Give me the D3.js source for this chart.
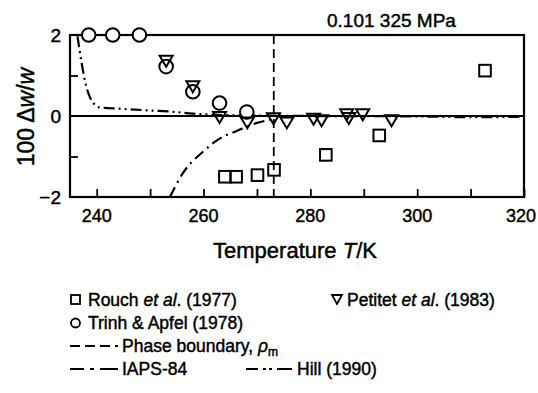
<!DOCTYPE html>
<html><head><meta charset="utf-8">
<script src="https://cdn.jsdelivr.net/npm/d3@7"></script>
<style>body{margin:0;background:#fff}svg{display:block}text{font-family:"Liberation Sans",Arial,sans-serif;fill:#000;stroke:#000;stroke-width:0.45px}</style>
</head><body><svg id="c" width="538" height="393"></svg>
<script>
const xTicks = [240,250,260,270,280,290,300,310,320];
const xTickLabels = [240,260,280,300,320];
const yTickLabels = [2,0,-2];
const yTicks = [-1,1];
const circlesT = [238.5,243,248,253,258,263,268.1];
const circlesV = [2.0,2.0,2.0,1.22,0.6,0.32,0.1];
const trianglesT = [253,258,263,268.2,273.1,275.6,280.6,282.1,286.8,287.2,289.8,295.2];
const trianglesV = [1.35,0.72,-0.04,-0.17,-0.07,-0.17,-0.08,-0.12,0.03,-0.06,0.03,-0.12];
const squaresT = [264,266.1,270.1,273.2,282.9,292.9,312.7];
const squaresV = [-1.5,-1.5,-1.46,-1.33,-0.96,-0.48,1.12];
const hillT = [236.4,237.2,237.8,239.1,240.6,244.4,249.4,253.7,258,265,280,300,310,320];
const hillV = [1.97,1.29,0.87,0.37,0.21,0.18,0.14,0.11,0.06,0.02,0.0,-0.01,-0.03,-0.02];
const iapsT = [253.7,256.2,260,262.5,266.2,270,273];
const iapsV = [-2,-1.4,-0.87,-0.6,-0.37,-0.17,-0.08];
const phaseT = 273.15;

const svg = d3.select("#c");
const L=70,R=524,T=35,B=197;
const x = d3.scaleLinear().domain([235,320]).range([L,R]);
const y = d3.scaleLinear().domain([-2,2]).range([B,T]);

svg.append("g").attr("transform",`translate(0,${B})`)
  .call(d3.axisBottom(x).tickValues(xTicks).tickSizeInner(-8).tickSizeOuter(0).tickFormat(""))
  .call(g=>{g.select(".domain").remove();g.selectAll("line").attr("stroke","#000").attr("stroke-width",1.8);});
svg.append("g").attr("transform",`translate(${L},0)`)
  .call(d3.axisLeft(y).tickValues(yTicks).tickSizeInner(-8).tickSizeOuter(0).tickFormat(""))
  .call(g=>{g.select(".domain").remove();g.selectAll("line").attr("stroke","#000").attr("stroke-width",1.8);});

svg.append("g").selectAll("text").data(xTickLabels).join("text")
  .attr("x",d=>Math.min(x(d),536-15)).attr("y",222).attr("text-anchor","middle").attr("font-size",18).text(d=>d);
svg.append("g").selectAll("text").data(yTickLabels).join("text")
  .attr("x",61).attr("y",d=>y(d)+7).attr("text-anchor","end").attr("font-size",19).text(d=>d<0?"\u2212"+(-d):d);

svg.append("rect").attr("x",L).attr("y",T).attr("width",R-L).attr("height",B-T)
  .attr("fill","none").attr("stroke","#000").attr("stroke-width",2.2);
svg.append("line").attr("x1",L).attr("x2",R).attr("y1",y(0)).attr("y2",y(0)).attr("stroke","#000").attr("stroke-width",2.2);
svg.append("line").attr("x1",x(phaseT)).attr("x2",x(phaseT)).attr("y1",T).attr("y2",B)
  .attr("stroke","#000").attr("stroke-width",1.8).attr("stroke-dasharray","9,5");

const line = d3.line().x(d=>x(d[0])).y(d=>y(d[1])).curve(d3.curveMonotoneX);
svg.append("path").attr("d",line(hillT.map((t,i)=>[t,hillV[i]])))
  .attr("fill","none").attr("stroke","#000").attr("stroke-width",2.2).attr("stroke-dasharray","11,4,2,4,2,4");
svg.append("path").attr("d",line(iapsT.map((t,i)=>[t,iapsV[i]])))
  .attr("fill","none").attr("stroke","#000").attr("stroke-width",2.2).attr("stroke-dasharray","11,5,2,5");

const sw = 2;
const tri = (cx,cy,w,h)=>`M${cx-w/2},${cy-h/2}L${cx+w/2},${cy-h/2}L${cx},${cy+h/2}Z`;
svg.append("g").selectAll("circle").data(circlesT).join("circle")
  .attr("cx",d=>x(d)).attr("cy",(d,i)=>y(circlesV[i])).attr("r",6.8)
  .attr("fill","#fff").attr("stroke","#000").attr("stroke-width",sw);
svg.append("g").selectAll("path").data(trianglesT).join("path")
  .attr("d",(d,i)=>tri(x(d),y(trianglesV[i]),13,11))
  .attr("fill","none").attr("stroke","#000").attr("stroke-width",sw);
svg.append("g").selectAll("rect").data(squaresT).join("rect")
  .attr("x",d=>x(d)-5.8).attr("y",(d,i)=>y(squaresV[i])-5.8).attr("width",11.6).attr("height",11.6)
  .attr("fill","none").attr("stroke","#000").attr("stroke-width",sw);

svg.append("text").attr("x",327).attr("y",27).attr("font-size",19).text("0.101 325 MPa");
const yl = svg.append("text").attr("transform","translate(34,117) rotate(-90)").attr("text-anchor","middle").attr("font-size",23);
yl.append("tspan").text("100  \u0394");
yl.append("tspan").attr("font-style","italic").text("w");
yl.append("tspan").text("/");
yl.append("tspan").attr("font-style","italic").text("w");
const xl = svg.append("text").attr("x",295).attr("y",258).attr("text-anchor","middle").attr("font-size",22);
xl.append("tspan").text("Temperature ");
xl.append("tspan").attr("font-style","italic").text("T");
xl.append("tspan").text("/K");

const lf = 17.5;
function ltext(xp,yp,parts){
  const t = svg.append("text").attr("x",xp).attr("y",yp).attr("font-size",lf);
  parts.forEach(p=>{const s=t.append("tspan").text(p[0]); if(p[1]==="i")s.attr("font-style","italic"); if(p[1]==="sub")s.attr("font-size",12).attr("dy",4);});
  return t;
}
svg.append("rect").attr("x",71).attr("y",295).attr("width",9).attr("height",9).attr("fill","none").attr("stroke","#000").attr("stroke-width",1.8);
ltext(88,306,[["Rouch "],["et al","i"],[". (1977)"]]);
svg.append("path").attr("d",tri(337,299.5,10,9)).attr("fill","none").attr("stroke","#000").attr("stroke-width",1.8);
ltext(347,306,[["Petitet "],["et al","i"],[". (1983)"]]);
svg.append("circle").attr("cx",75.5).attr("cy",323).attr("r",4.5).attr("fill","none").attr("stroke","#000").attr("stroke-width",1.8);
ltext(88,329,[["Trinh & Apfel (1978)"]]);
svg.append("line").attr("x1",70).attr("x2",118).attr("y1",346).attr("y2",346).attr("stroke","#000").attr("stroke-width",1.8).attr("stroke-dasharray","10,5");
ltext(122,352,[["Phase boundary, "],["\u03C1","i"],["m","sub"]]);
svg.append("line").attr("x1",70).attr("x2",118).attr("y1",369).attr("y2",369).attr("stroke","#000").attr("stroke-width",2.2).attr("stroke-dasharray","14,6,4,6,18");
ltext(122,375,[["IAPS-84"]]);
svg.append("line").attr("x1",246).attr("x2",292).attr("y1",369).attr("y2",369).attr("stroke","#000").attr("stroke-width",2.2).attr("stroke-dasharray","12,5,3,3,3,5,18");
ltext(297,375,[["Hill (1990)"]]);
</script></body></html>
